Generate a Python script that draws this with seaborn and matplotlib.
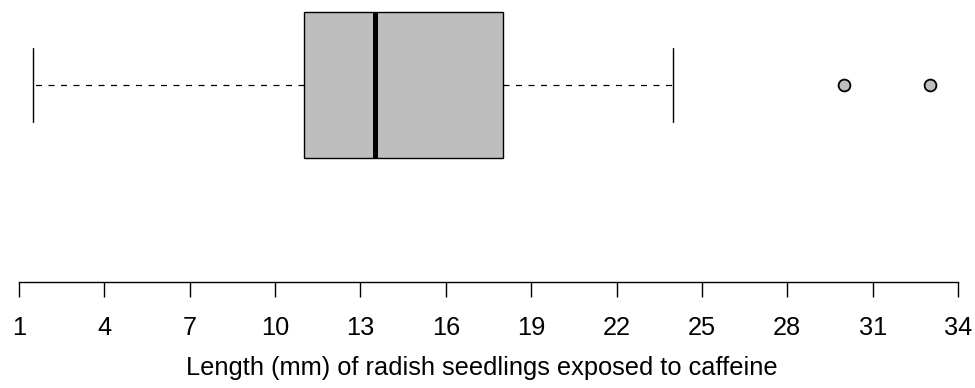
import matplotlib
matplotlib.use("Agg")
import matplotlib.pyplot as plt
import seaborn as sns
import pandas as pd

# Sample lengths (mm) reconstructed to match the five-number summary and outliers
lengths = [1.5, 5, 9, 11, 12, 13, 13.5, 15, 17, 18, 24, 30, 33]
tick_values = [1, 4, 7, 10, 13, 16, 19, 22, 25, 28, 31, 34]
xlabel = "Length (mm) of radish seedlings exposed to caffeine"

sns.set_style("white")
plt.rcParams["font.family"] = ["Liberation Sans", "DejaVu Sans"]
plt.rcParams["text.color"] = "black"
plt.rcParams["xtick.color"] = "black"
plt.rcParams["axes.labelcolor"] = "black"

df = pd.DataFrame({"length": lengths})

fig = plt.figure(figsize=(9.75, 3.88), dpi=100)
ax = fig.add_axes([19 / 975, 1 - 282 / 388, (958 - 19) / 975, 282 / 388])

sns.boxplot(
    data=df, x="length", orient="h", ax=ax,
    color="#bebebe", saturation=1, linecolor="black", linewidth=1.0,
    width=0.8, whis=1.5,
    whiskerprops=dict(linestyle=(0, (4.8, 5.2)), linewidth=0.9, color="black"),
    capprops=dict(linewidth=1.0, color="black"),
    medianprops=dict(linewidth=3.6, color="black", solid_capstyle="butt"),
    flierprops=dict(marker="o", markerfacecolor="#bebebe", markeredgecolor="black",
                    markersize=8.5, markeredgewidth=1.3),
)

# caps at half the box width
for ln in ax.lines:
    xd, yd = ln.get_xdata(), ln.get_ydata()
    if len(xd) == 2 and xd[0] == xd[1]:
        span = abs(yd[1] - yd[0])
        if 0 < span < 0.7:
            ln.set_ydata([-0.203, 0.203])

ax.set_xlim(1, 34)
ax.set_ylim(1.0794, -0.4658)
ax.set_yticks([])
ax.set_ylabel("")
ax.set_xticks(tick_values)
ax.set_xticklabels([str(v) for v in tick_values], fontsize=18.3, color="black")
ax.set_xlabel(xlabel, fontsize=18.3, color="black")
for s in ["top", "right", "left"]:
    ax.spines[s].set_visible(False)
ax.spines["bottom"].set_bounds(1, 34)
ax.spines["bottom"].set_linewidth(1.0)
ax.spines["bottom"].set_color("black")
ax.tick_params(axis="x", direction="out", length=10.5, width=1.0, color="black",
               pad=14, bottom=True)
ax.patch.set_alpha(0)
# centre the axis title on R's (padded) plotting region
ax.xaxis.set_label_coords(0.4924, -0.262)
ax.xaxis.label.set_va("top")

fig.savefig("out.png", dpi=100)
